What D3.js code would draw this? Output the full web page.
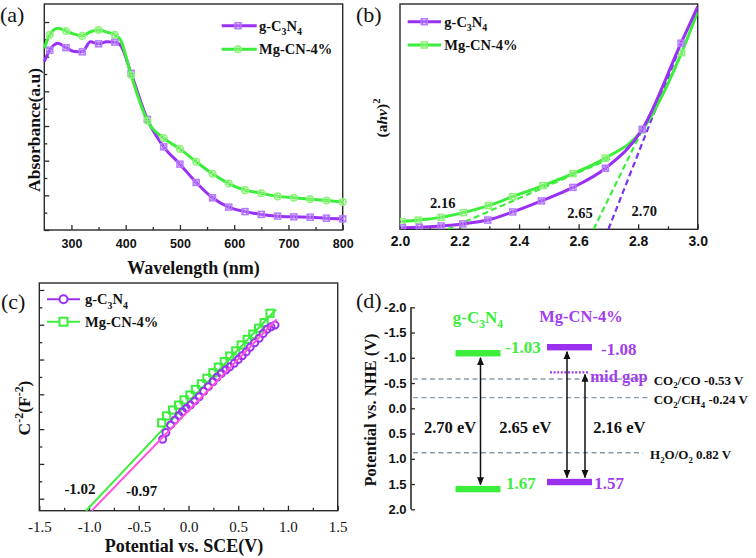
<!DOCTYPE html>
<html><head><meta charset="utf-8">
<script src="https://cdn.jsdelivr.net/npm/d3@7"></script>
<style>body{margin:0;background:#fff}svg{display:block}</style>
</head><body><svg id="c" width="756" height="558"></svg>
<script>
// ---------- DATA ----------
// (a) UV-vis absorbance
const absWl = [250,260,275,290,305,320,335,350,365,380,390,410,440,470,500,530,560,590,620,650,680,710,740,770,800];
const absG  = [4.86,5.19,5.39,5.26,5.15,5.14,5.43,5.37,5.43,5.42,5.34,4.52,3.19,2.40,1.90,1.37,0.93,0.66,0.53,0.45,0.40,0.38,0.37,0.34,0.32];
const absM  = [5.24,5.63,5.82,5.74,5.65,5.60,5.72,5.77,5.71,5.63,5.50,4.47,3.15,2.65,2.34,1.97,1.62,1.34,1.15,1.06,0.97,0.93,0.89,0.85,0.81];
const absTicks = [300,400,500,600,700,800];
// (b) Tauc plot
const tEg = [2.008,2.065,2.138,2.211,2.295,2.379,2.475,2.581,2.690,2.814,2.944,3.0];
const tYg = [0.007,0.009,0.015,0.024,0.041,0.077,0.126,0.186,0.271,0.444,0.826,0.988];
const tEm = [2.007,2.062,2.138,2.213,2.297,2.379,2.480,2.581,2.690,2.814,2.946,3.0];
const tYm = [0.034,0.041,0.053,0.074,0.105,0.145,0.194,0.247,0.316,0.441,0.784,0.966];
const tanX = [[2.16,2.71],[2.65,2.87],[2.70,2.93]];
const tanY = [[0,0.316],[0,0.592],[0,0.773]];
const tanLabels = ["2.16","2.65","2.70"];
const tTicks = [2.0,2.2,2.4,2.6,2.8,3.0];
// (c) Mott-Schottky
const cVg = [-0.26,-0.227,-0.18,-0.137,-0.097,-0.06,-0.02,0.02,0.064,0.107,0.154,0.2,0.247,0.287,0.33,0.375,0.415,0.46,0.5,0.54,0.58,0.62,0.665,0.71,0.75,0.79,0.83,0.87];
const cYg = [1.71,1.90,2.12,2.26,2.39,2.50,2.60,2.69,2.81,2.93,3.09,3.22,3.36,3.49,3.60,3.70,3.79,3.89,4.00,4.11,4.22,4.35,4.48,4.61,4.75,4.87,4.94,4.99];
const cVm = [-0.27,-0.22,-0.16,-0.10,-0.045,0.015,0.07,0.13,0.185,0.245,0.30,0.36,0.415,0.475,0.53,0.59,0.647,0.705,0.76,0.82];
const cYm = [2.18,2.38,2.55,2.69,2.84,2.98,3.14,3.30,3.46,3.62,3.78,3.94,4.10,4.25,4.42,4.58,4.73,4.90,5.06,5.33];
const fitGx = [-0.973,0.886], fitGy = [-0.345,5.155];
const fitMx = [-1.03,0.88],   fitMy = [-0.345,5.44];
const flatband = ["-1.02","-0.97"];
const cTicks = [-1.5,-1.0,-0.5,0.0,0.5,1.0,1.5];
// (d) band structure
const dMaterials = ["g-C3N4","Mg-CN-4%"];
const cbLevel = [-1.09,-1.21];
const vbLevel = [1.60,1.46];
const cbText = ["-1.03","-1.08"];
const vbText = ["1.67","1.57"];
const midGap = -0.71;
const gapText = ["2.70 eV","2.65 eV","2.16 eV"];
const redoxLevel = [-0.58,-0.21,0.88];
const dTicks = [-2.0,-1.5,-1.0,-0.5,0.0,0.5,1.0,1.5,2.0];

// ---------- STYLE ----------
const svg = d3.select("#c");
const SERIF = "'Liberation Serif','Times New Roman',serif";
const SANS = "'Liberation Sans',Arial,sans-serif";
const PUR = "#9a30f6", GRN = "#3cee3c", PINK = "#ff55dd", AX = "#2a2a2a", TXT = "#111";
const DPUR = "#a23cf0";
const PURM = "#b67cff", GRNM = "#8ff27c";

svg.append("rect").attr("width",756).attr("height",558).attr("fill","#fff");

function rich(textSel, parts, size) {
  let cur = 0;
  parts.forEach(([s,k]) => {
    const target = k==="sub" ? size*0.3 : k==="sup" ? -size*0.4 : 0;
    const t = textSel.append("tspan").text(s).attr("dy", target-cur);
    if (k) t.attr("font-size", size*0.68);
    cur = target;
  });
}
function txt(x,y,size,opts={}) {
  return svg.append("text").attr("x",x).attr("y",y)
    .attr("font-family",opts.font||SERIF).attr("font-size",size)
    .attr("font-weight",opts.weight||"bold").attr("fill",opts.fill||TXT)
    .attr("text-anchor",opts.anchor||"start");
}
function styleAxis(g, font, size, weight) {
  g.select(".domain").remove();
  g.selectAll("line").attr("stroke",AX).attr("stroke-width",1.3);
  g.selectAll("text").attr("font-family",font).attr("font-size",size).attr("font-weight",weight).attr("fill",TXT);
}
function frame(x0,x1,y0,y1) {
  svg.append("rect").attr("x",x0).attr("y",y0).attr("width",x1-x0).attr("height",y1-y0)
    .attr("fill","none").attr("stroke",AX).attr("stroke-width",1.4);
}
function sqX(g,x,y,s,color,fill) {
  const h=s/2;
  g.append("rect").attr("x",x-h).attr("y",y-h).attr("width",s).attr("height",s)
    .attr("fill",fill).attr("stroke",color).attr("stroke-width",1.5);
  g.append("path").attr("d",`M${x-h},${y-h}L${x+h},${y+h}M${x-h},${y+h}L${x+h},${y-h}`)
    .attr("stroke",color).attr("stroke-width",1.1);
}
function circPlus(g,x,y,r,color,fill) {
  g.append("circle").attr("cx",x).attr("cy",y).attr("r",r).attr("fill",fill).attr("stroke",color).attr("stroke-width",1.5);
  g.append("path").attr("d",`M${x-r},${y}L${x+r},${y}M${x},${y-r}L${x},${y+r}`).attr("stroke",color).attr("stroke-width",1.1);
}

// ---------- (a) ----------
{
  const x = d3.scaleLinear([250,800],[44.3,342.7]);
  const y = d3.scaleLinear([0,6.52],[230,4]);
  const gx = svg.append("g").attr("transform","translate(0,230)")
    .call(d3.axisBottom(x).tickValues(absTicks).tickFormat(d=>d).tickSizeInner(-5).tickSizeOuter(0).tickPadding(9.6));
  styleAxis(gx,SANS,12.5,"bold");
  const gxm = svg.append("g").attr("transform","translate(0,230)")
    .call(d3.axisBottom(x).tickValues([350,450,550,650,750]).tickFormat("").tickSizeInner(-3).tickSizeOuter(0));
  styleAxis(gxm,SANS,12,"bold");
  const gy = svg.append("g").attr("transform","translate(44.3,0)")
    .call(d3.axisLeft(y).tickValues(d3.range(0,7)).tickFormat("").tickSizeInner(-5).tickSizeOuter(0));
  styleAxis(gy,SANS,12,"bold");
  const gym = svg.append("g").attr("transform","translate(44.3,0)")
    .call(d3.axisLeft(y).tickValues(d3.range(0.5,6.5,1)).tickFormat("").tickSizeInner(-3).tickSizeOuter(0));
  styleAxis(gym,SANS,12,"bold");
  frame(44.3,342.7,4,230);
  const line = d3.line().x(d=>x(d[0])).y(d=>y(d[1])).curve(d3.curveMonotoneX);
  const series = [[absG,PUR,"sq"],[absM,GRN,"ci"]];
  series.forEach(([vals,col,mk]) => {
    const pts = absWl.map((w,i)=>[w,vals[i]]);
    svg.append("path").attr("d",line(pts)).attr("fill","none").attr("stroke",col).attr("stroke-width",3);
    const g = svg.append("g");
    pts.filter(p=>p[0]>=260 && (p[0]-260)%30===0).forEach(p=>{
      if (mk==="sq") sqX(g,x(p[0]),y(p[1]),6,PURM,"none");
      else circPlus(g,x(p[0]),y(p[1]),3.3,GRNM,"none");
    });
  });
  // legend
  const lg = svg.append("g");
  [[25.7,PUR,"sq",[["g-C"],["3","sub"],["N"],["4","sub"]]],[49.3,GRN,"ci",[["Mg-CN-4%"]]]].forEach(([ly,col,mk,parts])=>{
    lg.append("line").attr("x1",221.7).attr("x2",256.7).attr("y1",ly).attr("y2",ly).attr("stroke",col).attr("stroke-width",3);
    if (mk==="sq") sqX(lg,238,ly,6,PURM,"none"); else circPlus(lg,238,ly,3.3,GRNM,"none");
    rich(txt(259,ly+5,14.5), parts, 14.5);
  });
  txt(193.5,274,18,{anchor:"middle"}).text("Wavelength (nm)");
  txt(0,0,17.5,{anchor:"middle"}).attr("transform","translate(40,130) rotate(-90)").attr("x",0).attr("y",0).text("Absorbance(a.u)");
  txt(0,22,22,{weight:"normal"}).text("(a)");
}

// ---------- (b) ----------
{
  const x = d3.scaleLinear([2,3],[400,697.7]);
  const y = d3.scaleLinear([0,1],[229.3,4]);
  const gx = svg.append("g").attr("transform","translate(0,229.3)")
    .call(d3.axisBottom(x).tickValues(tTicks).tickFormat(d=>d.toFixed(1)).tickSizeInner(-5).tickSizeOuter(0).tickPadding(6.4));
  styleAxis(gx,SANS,14,"bold");
  const gxm = svg.append("g").attr("transform","translate(0,229.3)")
    .call(d3.axisBottom(x).tickValues([2.1,2.3,2.5,2.7,2.9]).tickFormat("").tickSizeInner(-3).tickSizeOuter(0));
  styleAxis(gxm,SANS,14,"bold");
  frame(400,697.7,4,229.3);
  svg.append("clipPath").attr("id","clipb").append("rect").attr("x",400).attr("y",4).attr("width",297.7).attr("height",225.3);
  const pg = svg.append("g").attr("clip-path","url(#clipb)");
  const line = d3.line().x(d=>x(d[0])).y(d=>y(d[1])).curve(d3.curveMonotoneX);
  const tanCols = [GRN,GRN,"#7a33f0"];
  tanX.forEach((xs,i)=>{
    pg.append("path").attr("d",d3.line()(xs.map((v,j)=>[x(v),y(tanY[i][j])])))
      .attr("fill","none").attr("stroke",tanCols[i]).attr("stroke-width",2.2).attr("stroke-dasharray","6,3.5");
  });
  [[tEm,tYm,GRN,GRNM],[tEg,tYg,PUR,PURM]].forEach(([xs,ys,col,mc])=>{
    const pts = xs.map((v,i)=>[v,ys[i]]);
    pg.append("path").attr("d",line(pts)).attr("fill","none").attr("stroke",col).attr("stroke-width",3);
    const g = pg.append("g");
    pts.slice(0,-1).forEach(p=>sqX(g,x(p[0]),y(p[1]),6,mc,"none"));
  });
  const lg = svg.append("g");
  [[21.7,PUR,PURM,[["g-C"],["3","sub"],["N"],["4","sub"]]],[45,GRN,GRNM,[["Mg-CN-4%"]]]].forEach(([ly,col,mc,parts])=>{
    lg.append("line").attr("x1",407.7).attr("x2",441).attr("y1",ly).attr("y2",ly).attr("stroke",col).attr("stroke-width",3);
    sqX(lg,424.3,ly,6,mc,"none");
    rich(txt(444.3,ly+5,14.5), parts, 14.5);
  });
  const labPos = [[442.7,208],[580,218],[644.3,215.5]];
  tanLabels.forEach((t,i)=>txt(labPos[i][0],labPos[i][1],14.5,{anchor:"middle"}).text(t));
  const yt = txt(0,0,15.5,{anchor:"middle"}).attr("transform","translate(386.5,118) rotate(-90)");
  yt.append("tspan").text("(a");
  yt.append("tspan").text("hν").attr("font-style","italic");
  yt.append("tspan").text(")");
  yt.append("tspan").text("2").attr("font-size",10.5).attr("dy",-6.5);
  txt(356,22,22,{weight:"normal"}).text("(b)");
}

// ---------- (c) ----------
{
  const x = d3.scaleLinear([-1.5,1.5],[39.3,337.7]);
  const y = d3.scaleLinear([-0.345,6.2],[510.7,283]);
  const gx = svg.append("g").attr("transform","translate(0,510.7)")
    .call(d3.axisBottom(x).tickValues(cTicks).tickFormat(d=>d.toFixed(1)).tickSizeInner(-5).tickSizeOuter(0).tickPadding(10.7));
  styleAxis(gx,SERIF,15,"normal");
  const gxm = svg.append("g").attr("transform","translate(0,510.7)")
    .call(d3.axisBottom(x).tickValues(d3.range(-1.25,1.5,0.5)).tickFormat("").tickSizeInner(-3).tickSizeOuter(0));
  styleAxis(gxm,SERIF,15,"normal");
  const gy = svg.append("g").attr("transform","translate(39.3,0)")
    .call(d3.axisLeft(y).tickValues(d3.range(0,7)).tickFormat("").tickSizeInner(-5).tickSizeOuter(0));
  styleAxis(gy,SERIF,15,"normal");
  const gym = svg.append("g").attr("transform","translate(39.3,0)")
    .call(d3.axisLeft(y).tickValues(d3.range(0.5,6,1)).tickFormat("").tickSizeInner(-3).tickSizeOuter(0));
  styleAxis(gym,SERIF,15,"normal");
  frame(39.3,337.7,283,510.7);
  const L = d3.line().x(d=>x(d[0])).y(d=>y(d[1]));
  svg.append("path").attr("d",L(fitMx.map((v,i)=>[v,fitMy[i]]))).attr("stroke",GRN).attr("stroke-width",2).attr("fill","none");
  const gs = svg.append("g");
  cVm.forEach((v,i)=>gs.append("rect").attr("x",x(v)-3.6).attr("y",y(cYm[i])-3.6).attr("width",7.2).attr("height",7.2)
    .attr("fill","none").attr("stroke",GRN).attr("stroke-width",2));
  const gc = svg.append("g");
  cVg.forEach((v,i)=>gc.append("circle").attr("cx",x(v)).attr("cy",y(cYg[i])).attr("r",3.5)
    .attr("fill","none").attr("stroke",PUR).attr("stroke-width",2));
  svg.append("path").attr("d",L(fitGx.map((v,i)=>[v,fitGy[i]]))).attr("stroke",PINK).attr("stroke-width",2).attr("fill","none");
  // legend
  const lg = svg.append("g");
  lg.append("line").attr("x1",47).attr("x2",80).attr("y1",299.3).attr("y2",299.3).attr("stroke",PUR).attr("stroke-width",2);
  lg.append("circle").attr("cx",63.5).attr("cy",299.3).attr("r",4).attr("fill","#fff").attr("stroke",PUR).attr("stroke-width",2);
  lg.append("line").attr("x1",47).attr("x2",80).attr("y1",321.7).attr("y2",321.7).attr("stroke",GRN).attr("stroke-width",2);
  lg.append("rect").attr("x",59.5).attr("y",317.7).attr("width",8).attr("height",8).attr("fill","#fff").attr("stroke",GRN).attr("stroke-width",2);
  rich(txt(85,304.3,14.5),[["g-C"],["3","sub"],["N"],["4","sub"]],14.5);
  txt(85,326.7,14.5).text("Mg-CN-4%");
  txt(80,493.5,15,{anchor:"middle"}).text(flatband[0]);
  txt(141.7,496,15,{anchor:"middle"}).text(flatband[1]);
  txt(184,551.5,18,{anchor:"middle"}).text("Potential vs. SCE(V)");
  const yt = txt(0,0,17.5,{anchor:"middle"}).attr("transform","translate(30,408) rotate(-90)");
  rich(yt,[["C"],["-2","sup"],["(F"],["-2","sup"],[")"]],17.5);
  txt(1,309,22,{weight:"normal"}).text("(c)");
}

// ---------- (d) ----------
{
  const y = d3.scaleLinear([-2,2],[307.3,509.3]);
  const x = d3.scalePoint(dMaterials,[478,569.5]);
  const bw = 45;
  const gy = svg.append("g").attr("transform","translate(411,0)")
    .call(d3.axisLeft(y).tickValues(dTicks).tickFormat(d=>d.toFixed(1)).tickSizeInner(-4).tickSizeOuter(0).tickPadding(4.5));
  styleAxis(gy,SANS,13,"bold");
  svg.append("line").attr("x1",411).attr("x2",411).attr("y1",y(-2)).attr("y2",y(2)).attr("stroke",AX).attr("stroke-width",1.6);
  // redox levels
  const redoxEnd = [646,648,643];
  redoxLevel.forEach((v,i)=>svg.append("line").attr("x1",413).attr("x2",redoxEnd[i]).attr("y1",y(v)).attr("y2",y(v))
    .attr("stroke","#8a9aa8").attr("stroke-width",1.3).attr("stroke-dasharray","5,3.5"));
  rich(txt(653.7,384.5,13),[["CO"],["2","sub"],["/CO  -0.53 V"]],13);
  rich(txt(653.7,403.8,13),[["CO"],["2","sub"],["/CH"],["4","sub"],[" -0.24 V"]],13);
  rich(txt(650,458.8,13),[["H"],["2","sub"],["O/O"],["2","sub"],[" 0.82 V"]],13);
  // bands
  const cols = [GRN,"#9a30f0"];
  dMaterials.forEach((m,i)=>{
    svg.append("rect").attr("x",x(m)-bw/2).attr("width",bw).attr("y",y(cbLevel[i])-3.2).attr("height",6.4).attr("fill",cols[i]);
    svg.append("rect").attr("x",x(m)-bw/2).attr("width",bw).attr("y",y(vbLevel[i])-3.2).attr("height",6.4).attr("fill",cols[i]);
  });
  // mid gap
  svg.append("line").attr("x1",550).attr("x2",589.5).attr("y1",y(midGap)).attr("y2",y(midGap))
    .attr("stroke",DPUR).attr("stroke-width",2.2).attr("stroke-dasharray","2,1.6");
  txt(590.3,382,16.5,{fill:DPUR}).text("mid gap");
  // arrows
  const defs = svg.append("defs");
  defs.append("marker").attr("id","ah").attr("viewBox","0 0 10 10").attr("refX",9).attr("refY",5)
    .attr("markerWidth",5.5).attr("markerHeight",5.5).attr("orient","auto-start-reverse")
    .append("path").attr("d","M0,0.8L10,5L0,9.2z").attr("fill","#111");
  const arrows = [
    [x(dMaterials[0])+2.5, y(cbLevel[0])+4.5, y(vbLevel[0])-4.5],
    [x(dMaterials[1])-2.5, y(cbLevel[1])+4.5, y(vbLevel[1])-4.5],
    [x(dMaterials[1])+15.5, y(midGap)+2, y(vbLevel[1])-4.5]
  ];
  arrows.forEach(([ax,y1,y2])=>svg.append("line").attr("x1",ax).attr("x2",ax).attr("y1",y1).attr("y2",y2)
    .attr("stroke","#111").attr("stroke-width",1.5).attr("marker-start","url(#ah)").attr("marker-end","url(#ah)"));
  // labels
  rich(txt(x(dMaterials[0]),323,17,{anchor:"middle",fill:GRN}),[["g-C"],["3","sub"],["N"],["4","sub"]],17);
  txt(581,322,16.5,{anchor:"middle",fill:DPUR}).text("Mg-CN-4%");
  txt(505.3,352.6,17,{fill:GRN}).text(cbText[0]);
  txt(601,355,17,{fill:DPUR}).text(cbText[1]);
  txt(506,489.3,17,{fill:GRN}).text(vbText[0]);
  txt(594.3,489.3,17,{fill:DPUR}).text(vbText[1]);
  const gx = [450,525.3,619.3];
  gapText.forEach((t,i)=>txt(gx[i],432.5,16.5,{anchor:"middle"}).text(t));
  txt(0,0,16.5,{anchor:"middle"}).attr("transform","translate(376,410) rotate(-90)").text("Potential vs. NHE (V)");
  txt(356,308,22,{weight:"normal"}).text("(d)");
}
</script></body></html>
